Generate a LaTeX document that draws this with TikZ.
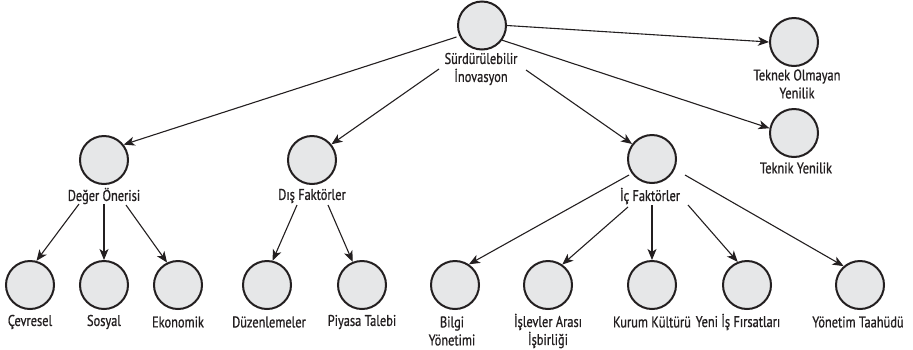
\documentclass[tikz,border=0pt]{standalone}
\usepackage{fontspec}
\setmainfont[FakeStretch=0.8,FakeBold=0.8]{PT Sans}
\usetikzlibrary{arrows.meta}
\definecolor{circfill}{HTML}{E6E7E8}
\definecolor{txt}{HTML}{231F20}
\tikzset{
  bubble/.style={circle, draw=txt, line width=2pt, fill=circfill, minimum size=48pt, inner sep=0pt},
  lab/.style={font=\fontsize{15.5pt}{18pt}\selectfont, text=txt, align=center, inner sep=0pt},
  arr/.style={draw=txt, line width=1.1pt, -{Stealth[length=11pt,width=9pt,inset=3pt]}}
}
\begin{document}
\begin{tikzpicture}[x=1pt,y=-1pt]
\useasboundingbox (0,0) rectangle (913,349);
% circles
\node[bubble] (root) at (482,25.5) {};
\node[bubble] (tek) at (794,42) {};
\node[bubble] (tn) at (794,133) {};
\node[bubble] (deg) at (104,160) {};
\node[bubble] (dis) at (312,160) {};
\node[bubble] (ic) at (652,159) {};
\node[bubble] (cev) at (30,285) {};
\node[bubble] (sos) at (104,285) {};
\node[bubble] (eko) at (178,285) {};
\node[bubble] (duz) at (267,285) {};
\node[bubble] (piy) at (362,285) {};
\node[bubble] (bil) at (455,285) {};
\node[bubble] (isl) at (548,285) {};
\node[bubble] (kur) at (652,285) {};
\node[bubble] (yen) at (747,285) {};
\node[bubble] (yon) at (860,285) {};
% labels
\node[lab] (rootlab) at (481,69) {Sürdürülebilir\\İnovasyon};
\node[lab] (teklab) at (797,84) {Teknek Olmayan\\Yenilik};
\node[lab] (tnlab) at (796,168) {Teknik Yenilik};
\node[lab] (deglab) at (104,196) {Değer Önerisi};
\node[lab] (dislab) at (312,196) {Dış Faktörler};
\node[lab] (iclab) at (650,196) {İç Faktörler};
\node[lab] (cevlab) at (30,322) {Çevresel};
\node[lab] (soslab) at (104,322) {Sosyal};
\node[lab] (ekolab) at (178,322) {Ekonomik};
\node[lab] (duzlab) at (269,322) {Düzenlemeler};
\node[lab] (piylab) at (362,322) {Piyasa Talebi};
\node[lab] (billab) at (452,331) {Bilgi\\Yönetimi};
\node[lab] (isllab) at (548,331) {İşlevler Arası\\İşbirliği};
\node[lab] (kurlab) at (652,322) {Kurum Kültürü};
\node[lab] (yenlab) at (738,322) {Yeni İş Fırsatları};
\node[lab] (yonlab) at (858,322) {Yönetim Taahüdü};
% connectors
\draw[arr, shorten <=3pt] (root.205) -- (deg.38);
\draw[arr] ([shift={(-42,0)}]rootlab.center) -- (dis.39);
\draw[arr] ([shift={(45,1)}]rootlab.center) -- (ic.143);
\draw[arr] (root.east) -- (tek.west);
\draw[arr] (root.-36) -- (tn.169);
\draw[arr] ([shift={(-25,8)}]deglab.center) -- (cev.75);
\draw[arr] ([shift={(0,8)}]deglab.center) -- (sos.north);
\draw[arr] ([shift={(22,9)}]deglab.center) -- (eko.116);
\draw[arr] ([shift={(-15,9)}]dislab.center) -- (duz.77);
\draw[arr] ([shift={(16,9)}]dislab.center) -- (piy.112);
\draw[arr] ([shift={(-23,16)}]ic.center) -- (bil.56);
\draw[arr] ([shift={(-22,11)}]iclab.center) -- (isl.55);
\draw[arr] ([shift={(2,9)}]iclab.center) -- (kur.north);
\draw[arr] ([shift={(38,9)}]iclab.center) -- (yen.112);
\draw[arr] ([shift={(33,16)}]ic.center) -- (yon.131);
\end{tikzpicture}
\end{document}
